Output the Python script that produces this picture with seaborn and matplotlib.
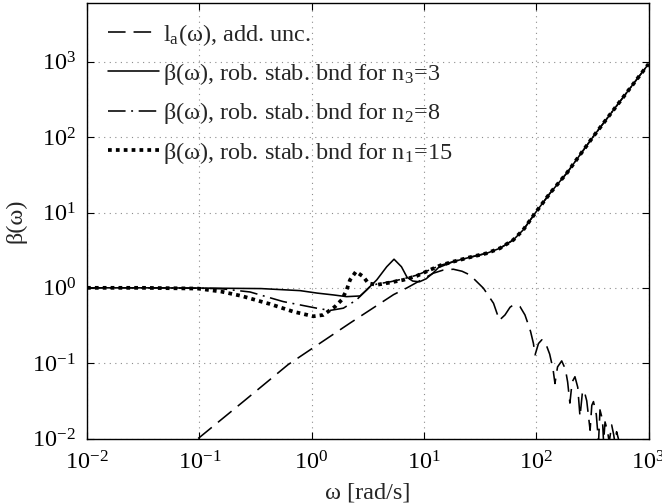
import numpy as np
import pandas as pd
import matplotlib
matplotlib.use("Agg")
import matplotlib.pyplot as plt
from matplotlib.ticker import LogLocator, NullLocator
import seaborn as sns

# ---- data (values are log10 of omega / beta) ----
la_logw = [-1.01, -0.60, -0.21, 0.34, 0.73, 0.85, 1.084, 1.17, 1.262, 1.34, 1.41, 1.53,
           1.62, 1.672, 1.722, 1.767, 1.796, 1.856, 1.90, 1.93, 1.95, 1.975, 1.99,
           2.02, 2.05, 2.08, 2.12, 2.15, 2.167, 2.19, 2.227, 2.26, 2.28, 2.30,
           2.32, 2.345, 2.37, 2.39, 2.41, 2.426, 2.45, 2.48, 2.495, 2.51, 2.535,
           2.555, 2.568, 2.59, 2.60, 2.613, 2.635, 2.65, 2.672, 2.69, 2.70, 2.716, 2.74]
la_logb = [-2.00, -1.50, -1.02, -0.47, -0.09, 0.00, 0.194, 0.235, 0.247, 0.22, 0.171, -0.005,
           -0.205, -0.43, -0.36, -0.258, -0.227, -0.25, -0.36, -0.49, -0.58, -0.736, -0.89,
           -0.74, -0.69, -0.72, -0.88, -1.08, -1.27, -1.05, -0.97, -1.08, -1.25, -1.53,
           -1.25, -1.18, -1.32, -1.71, -1.41, -1.36, -1.50, -1.89, -1.56, -1.51, -1.68,
           -2.05, -1.62, -1.75, -2.05, -1.78, -1.90, -2.05, -1.82, -1.95, -2.05, -1.91, -2.05]

common_logw = [1.262, 1.41, 1.56, 1.678, 1.796, 1.885, 1.99, 2.123, 2.272, 2.508, 2.984, 3.0]
common_logb = [0.348, 0.406, 0.459, 0.526, 0.636, 0.77, 0.99, 1.256, 1.522, 2.008, 2.94, 2.97]

n3_logw = [-2.0, -1.5, -1.0, -0.448, -0.103, 0.05, 0.193, 0.312, 0.431, 0.49, 0.58, 0.669,
           0.734, 0.80, 0.85, 0.90, 0.96, 1.02, 1.084, 1.13, 1.20]
n3_logb = [0.0, 0.0, -0.003, -0.01, -0.037, -0.07, -0.094, -0.117, -0.108, -0.028, 0.105, 0.28,
           0.38, 0.28, 0.14, 0.09, 0.08, 0.12, 0.20, 0.27, 0.31]

n2_logw = [-2.0, -1.5, -1.0, -0.804, -0.548, -0.252, 0.045, 0.164, 0.283, 0.40, 0.52, 0.58,
           0.70, 0.82, 0.94, 1.054, 1.15]
n2_logb = [0.0, 0.0, -0.005, -0.012, -0.055, -0.183, -0.27, -0.30, -0.27, -0.16, 0.016, 0.05,
           0.08, 0.12, 0.17, 0.24, 0.30]

n1_logw = [-2.0, -1.5, -1.01, -0.804, -0.626, -0.448, -0.37, -0.163, 0.015, 0.104, 0.208, 0.268,
           0.312, 0.342, 0.395, 0.46, 0.505, 0.58, 0.698, 0.817, 0.936, 1.054, 1.15]
n1_logb = [0.0, 0.0, -0.01, -0.05, -0.107, -0.183, -0.215, -0.316, -0.378, -0.36, -0.25, -0.16,
           -0.028, 0.105, 0.215, 0.149, 0.06, 0.04, 0.07, 0.105, 0.158, 0.238, 0.30]

labels = [r"$\mathrm{l}_\mathrm{a}$(ω), add. unc.",
          r"β(ω), rob. stab. bnd for $\mathrm{n}_3$=3",
          r"β(ω), rob. stab. bnd for $\mathrm{n}_2$=8",
          r"β(ω), rob. stab. bnd for $\mathrm{n}_1$=15"]

# ---- style ----
sns.set_style("ticks")
plt.rcParams["font.family"] = ["Liberation Serif", "DejaVu Serif"]
plt.rcParams["mathtext.fontset"] = "custom"
plt.rcParams["mathtext.rm"] = "Liberation Serif"
plt.rcParams["mathtext.it"] = "Liberation Serif:italic"
plt.rcParams["mathtext.bf"] = "Liberation Serif:bold"

FS = 17.5

fig = plt.figure(figsize=(6.62, 5.04), dpi=100)
ax = fig.add_axes([87 / 662, 1 - 438.5 / 504, (648.5 - 87) / 662, (438.5 - 2.7) / 504])


def curve(lw_list, lb_list, extra_w=None, extra_b=None):
    w = list(lw_list)
    b = list(lb_list)
    if extra_w is not None:
        w = w + [x for x in extra_w if x > w[-1]]
        b = b + [y for x, y in zip(extra_w, extra_b) if x > lw_list[-1]]
    return pd.DataFrame({"omega": 10.0 ** np.array(w), "beta": 10.0 ** np.array(b)})


d_la = curve(la_logw, la_logb)
d_n3 = curve(n3_logw, n3_logb, common_logw, common_logb)
d_n2 = curve(n2_logw, n2_logb, common_logw, common_logb)
d_n1 = curve(n1_logw, n1_logb, common_logw, common_logb)

ax.set_xscale("log")
ax.set_yscale("log")

sns.lineplot(data=d_la, x="omega", y="beta", ax=ax, color="k", lw=1.15,
             linestyle=(0, (11, 5)), label=labels[0], estimator=None, sort=False)
sns.lineplot(data=d_n3, x="omega", y="beta", ax=ax, color="k", lw=1.15,
             linestyle="-", label=labels[1], estimator=None, sort=False)
sns.lineplot(data=d_n2, x="omega", y="beta", ax=ax, color="k", lw=1.15,
             linestyle=(0, (11, 3.5, 1.2, 3.5)), label=labels[2], estimator=None, sort=False)
sns.lineplot(data=d_n1, x="omega", y="beta", ax=ax, color="k", lw=2.7,
             linestyle=(0, (1.0, 1.1)), label=labels[3], estimator=None, sort=False)

ax.set_xlim(1e-2, 1e3)
ax.set_ylim(1e-2, 10 ** 3.785)
ax.xaxis.set_major_locator(LogLocator(base=10, numticks=12))
ax.yaxis.set_major_locator(LogLocator(base=10, numticks=12))
ax.xaxis.set_minor_locator(NullLocator())
ax.yaxis.set_minor_locator(NullLocator())

ax.grid(True, which="major", linestyle=(0, (1, 4)), color="0.55", lw=0.8)
ax.tick_params(which="major", direction="in", length=5, width=0.8, top=True, right=True,
               labelsize=FS, colors="k")
ax.tick_params(axis="x", pad=9)
ax.tick_params(axis="y", pad=8)
for s in ax.spines.values():
    s.set_linewidth(1.0)
    s.set_color("k")

ax.set_xlabel("ω [rad/s]", fontsize=FS, labelpad=6)
ax.set_ylabel("β(ω)", fontsize=FS, labelpad=4)

leg = ax.legend(loc="upper left", bbox_to_anchor=(0.012, 0.99), frameon=False, fontsize=FS,
                handlelength=2.1, handletextpad=0.17, labelspacing=0.55, borderaxespad=0.2)

fig.savefig("out.png", dpi=100)
